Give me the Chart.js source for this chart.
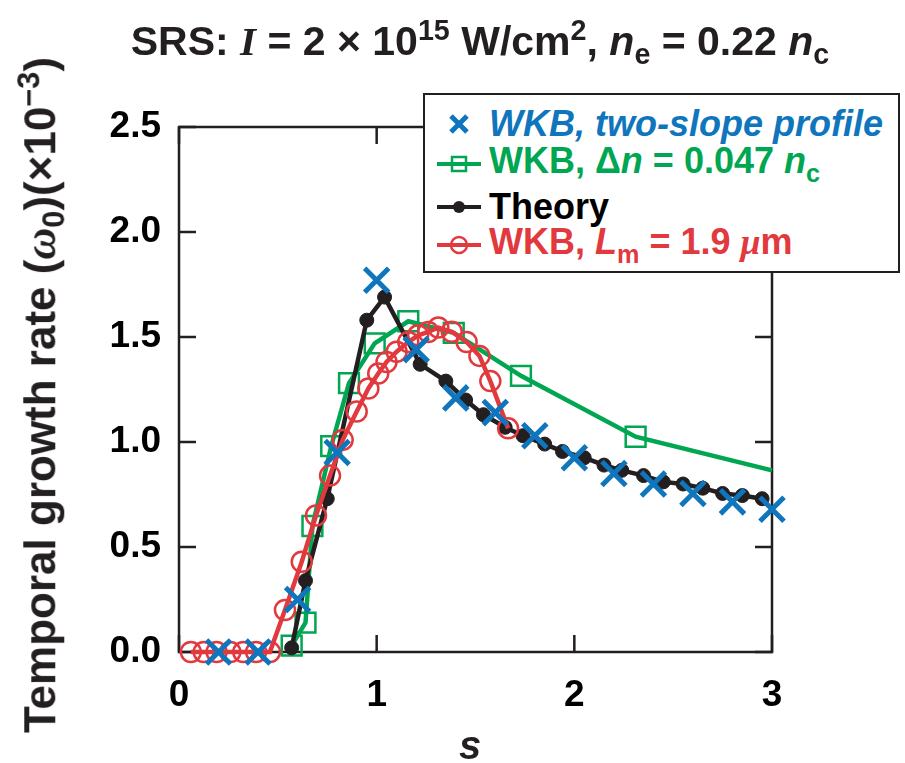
<!DOCTYPE html>
<html>
<head>
<meta charset="utf-8">
<script src="https://cdn.jsdelivr.net/npm/chart.js@4.4.1/dist/chart.umd.min.js"></script>
<style>
  body { margin: 0; background: #fff; }
  #wrap { position: relative; width: 905px; height: 763px; font-family: "Liberation Sans", Arial, sans-serif; font-weight: bold; }
  #title { position: absolute; left: 0; width: 960px; top: 14px; text-align: center; font-size: 41px; color: #231f20; white-space: nowrap; }
  #ytitle { position: absolute; left: 42px; top: 395px; transform: translate(-50%, -50%) rotate(-90deg); font-size: 44px; color: #231f20; white-space: nowrap; }
  #xtitle { position: absolute; left: 470px; top: 745px; transform: translate(-50%, -50%); font-size: 40px; font-style: italic; color: #231f20; }
  #legend { position: absolute; left: 423px; top: 93px; width: 473px; height: 176px; border: 2px solid #231f20; background: #fff; }
  .row { position: absolute; left: 0; height: 40px; font-size: 36px; white-space: nowrap; }
  .row svg { position: absolute; left: 10px; top: 0; }
  .row span.t { position: absolute; left: 64px; top: 50%; transform: translateY(-50%); }
  .serif { font-family: "Liberation Serif", serif; font-style: italic; font-weight: bold; }
  sub, sup { font-size: 70%; }
</style>
</head>
<body>
<div id="wrap">
  <canvas id="canvas" width="905" height="763"></canvas>
  <div id="title">SRS: <span class="serif">I</span> = 2 × 10<sup>15</sup> W/cm<sup>2</sup>, <i>n</i><sub>e</sub> = 0.22 <i>n</i><sub>c</sub></div>
  <div id="ytitle">Temporal growth rate (<span class="serif">ω</span><sub>0</sub>)(×10<sup>−3</sup>)</div>
  <div id="xtitle">s</div>
  <div id="legend">
    <div class="row" style="top:9px">
      <svg width="48" height="40"><path d="M16 12 L32 28 M32 12 L16 28" stroke="#0f75bc" stroke-width="5"/></svg>
      <span class="t" style="color:#0f75bc;font-style:italic">WKB, two-slope profile</span>
    </div>
    <div class="row" style="top:49px">
      <svg width="48" height="40"><path d="M2 20 L46 20" stroke="#00a651" stroke-width="4"/><rect x="17" y="13" width="14" height="14" fill="none" stroke="#00a651" stroke-width="2.5"/></svg>
      <span class="t" style="color:#00a651">WKB, Δ<i>n</i> = 0.047 <i>n</i><sub>c</sub></span>
    </div>
    <div class="row" style="top:92px">
      <svg width="48" height="40"><path d="M2 20 L46 20" stroke="#231f20" stroke-width="4"/><circle cx="24" cy="20" r="6" fill="#231f20"/></svg>
      <span class="t" style="color:#000">Theory</span>
    </div>
    <div class="row" style="top:130px">
      <svg width="48" height="40"><path d="M2 20 L46 20" stroke="#e2393f" stroke-width="4"/><circle cx="24" cy="20" r="8" fill="none" stroke="#e2393f" stroke-width="2.5"/></svg>
      <span class="t" style="color:#e2393f">WKB, <i>L</i><sub>m</sub> = 1.9 <span class="serif">μ</span>m</span>
    </div>
  </div>
</div>
<script>
// s values and growth rates (x 10^-3 omega_0)
var wkbTwoS = [0.2, 0.4, 0.6, 0.8, 1.0, 1.2, 1.4, 1.6, 1.8, 2.0, 2.2, 2.4, 2.6, 2.8, 3.0];
var wkbTwoG = [0, 0, 0.25, 0.95, 1.77, 1.44, 1.21, 1.14, 1.03, 0.925, 0.85, 0.80, 0.755, 0.715, 0.68];

var wkbDnS = [0.57, 0.64, 0.675, 0.77, 0.86, 0.99, 1.16, 1.39, 1.73, 2.31, 3.0];
var wkbDnG = [0.03, 0.14, 0.60, 0.98, 1.28, 1.47, 1.575, 1.52, 1.315, 1.025, 0.865];

var theoryS = [0.57, 0.64, 0.75, 0.95, 1.04, 1.22, 1.35, 1.45, 1.54, 1.65, 1.74, 1.85, 1.94, 2.05, 2.15, 2.24, 2.35, 2.45, 2.55, 2.65, 2.75, 2.85, 2.95];
var theoryG = [0.02, 0.34, 0.73, 1.58, 1.69, 1.37, 1.29, 1.20, 1.13, 1.07, 1.03, 0.99, 0.955, 0.925, 0.89, 0.865, 0.84, 0.81, 0.80, 0.78, 0.755, 0.745, 0.73];

var wkbLmS = [0.06, 0.125, 0.19, 0.26, 0.325, 0.39, 0.46, 0.536, 0.621, 0.693, 0.764, 0.828, 0.899, 0.958, 1.008, 1.05, 1.101, 1.16, 1.21, 1.261, 1.312, 1.38, 1.455, 1.52, 1.575, 1.665];
var wkbLmG = [0, 0, 0, 0, 0, 0, 0, 0.20, 0.43, 0.65, 0.84, 1.01, 1.145, 1.255, 1.326, 1.381, 1.43, 1.476, 1.508, 1.524, 1.545, 1.525, 1.476, 1.41, 1.29, 1.065];

var xTicks = [0, 1, 2, 3];
var yTicks = [0, 0.5, 1.0, 1.5, 2.0, 2.5];

function pts(xs, ys) {
  return xs.map(function(x, i) { return {x: x, y: ys[i]}; });
}

// frame with inward ticks on all four sides
var framePlugin = {
  id: 'frame',
  beforeDatasetsDraw: function(chart) {
    var a = chart.chartArea, ctx = chart.ctx;
    var xs = chart.scales.x, ys = chart.scales.y;
    var len = 17;
    ctx.save();
    ctx.strokeStyle = '#231f20';
    ctx.lineWidth = 2.5;
    ctx.strokeRect(a.left, a.top, a.right - a.left, a.bottom - a.top);
    ctx.beginPath();
    xTicks.forEach(function(v) {
      var px = xs.getPixelForValue(v);
      ctx.moveTo(px, a.bottom); ctx.lineTo(px, a.bottom - len);
      ctx.moveTo(px, a.top); ctx.lineTo(px, a.top + len);
    });
    yTicks.forEach(function(v) {
      var py = ys.getPixelForValue(v);
      ctx.moveTo(a.left, py); ctx.lineTo(a.left + len, py);
      ctx.moveTo(a.right, py); ctx.lineTo(a.right - len, py);
    });
    ctx.stroke();
    ctx.restore();
  }
};

var dnRadius = wkbDnS.map(function(s, i) { return i == wkbDnS.length - 1 ? 0 : 14; });

var ctx = document.getElementById('canvas').getContext('2d');
var myChart = new Chart(ctx, {
  type: 'scatter',
  data: {
    datasets: [
      {
        label: 'WKB, two-slope profile',
        data: pts(wkbTwoS, wkbTwoG),
        showLine: false,
        pointStyle: 'crossRot',
        pointRadius: 17,
        borderColor: '#0f75bc',
        borderWidth: 5,
        clip: false
      },
      {
        label: 'WKB, Lm = 1.9 um',
        data: pts(wkbLmS, wkbLmG),
        showLine: true,
        borderColor: '#e2393f',
        borderWidth: 4.5,
        pointStyle: 'circle',
        pointRadius: 10,
        pointBorderWidth: 2.5,
        pointBackgroundColor: 'transparent',
        pointBorderColor: '#e2393f',
        clip: false
      },
      {
        label: 'Theory',
        data: pts(theoryS, theoryG),
        showLine: true,
        borderColor: '#231f20',
        borderWidth: 4.5,
        pointStyle: 'circle',
        pointRadius: 7,
        pointBackgroundColor: '#231f20',
        pointBorderColor: '#231f20',
        pointBorderWidth: 1,
        clip: false
      },
      {
        label: 'WKB, dn = 0.047 nc',
        data: pts(wkbDnS, wkbDnG),
        showLine: true,
        borderColor: '#00a651',
        borderWidth: 4.5,
        pointStyle: 'rect',
        pointRadius: dnRadius,
        pointBorderWidth: 2.5,
        pointBackgroundColor: 'transparent',
        pointBorderColor: '#00a651',
        clip: false
      }
    ]
  },
  plugins: [framePlugin],
  options: {
    responsive: false,
    devicePixelRatio: 1,
    animation: false,
    layout: { padding: { left: 0, right: 133, top: 127, bottom: 0 } },
    plugins: { legend: { display: false }, tooltip: { enabled: false } },
    elements: { line: { tension: 0 } },
    scales: {
      x: {
        type: 'linear',
        min: 0, max: 3,
        afterFit: function(s) { s.height = 111; },
        afterBuildTicks: function(s) { s.ticks = xTicks.map(function(v) { return {value: v}; }); },
        grid: { display: false },
        border: { display: false },
        ticks: { color: '#000', padding: 14, font: { family: 'Liberation Sans', size: 37, weight: 'bold' } }
      },
      y: {
        min: 0, max: 2.5,
        afterFit: function(s) { s.width = 179; },
        afterBuildTicks: function(s) { s.ticks = yTicks.map(function(v) { return {value: v}; }); },
        grid: { display: false },
        border: { display: false },
        ticks: {
          color: '#000', padding: 10,
          font: { family: 'Liberation Sans', size: 37, weight: 'bold' },
          callback: function(v) { return v.toFixed(1); }
        }
      }
    }
  }
});
</script>
</body>
</html>
